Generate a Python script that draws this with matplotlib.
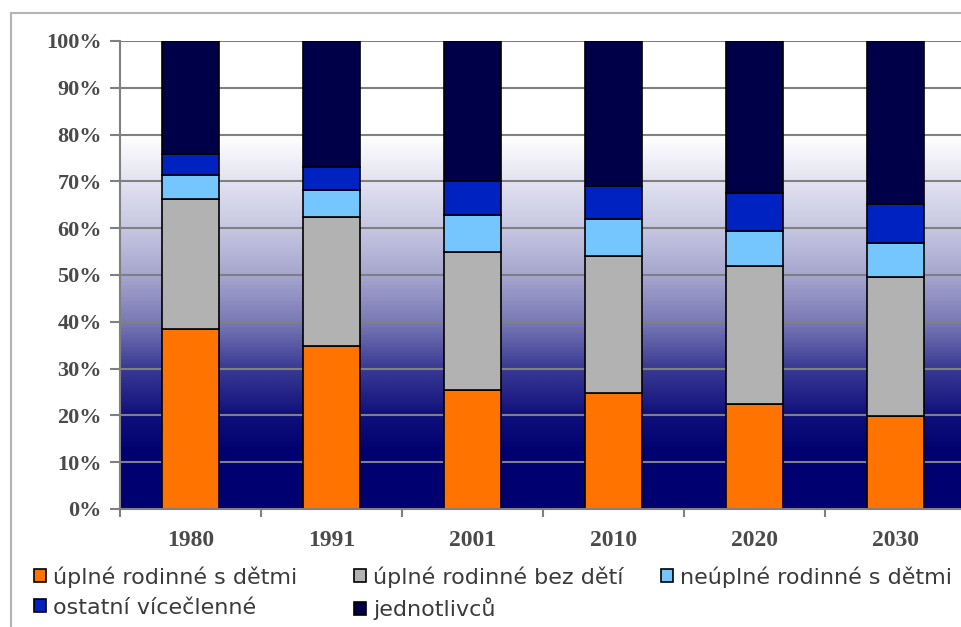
import matplotlib
matplotlib.use("Agg")
import matplotlib.pyplot as plt
import numpy as np
from matplotlib.colors import LinearSegmentedColormap
from matplotlib.patches import Rectangle, Patch

years = ["1980", "1991", "2001", "2010", "2020", "2030"]
series_names = ["úplné rodinné s dětmi", "úplné rodinné bez dětí",
                "neúplné rodinné s dětmi", "ostatní vícečlenné", "jednotlivců"]
orange = [38.4, 34.8, 25.5, 24.8, 22.4, 19.9]
gray = [27.8, 27.5, 29.4, 29.3, 29.5, 29.7]
lightblue = [5.2, 5.9, 7.9, 7.9, 7.6, 7.2]
blue = [4.5, 4.9, 7.3, 7.0, 8.0, 8.3]
dark = [24.1, 26.9, 29.9, 31.0, 32.5, 34.9]
colors = ["#FF7300", "#B2B2B2", "#75C5FF", "#0022C0", "#000048"]
yticks = [0, 10, 20, 30, 40, 50, 60, 70, 80, 90, 100]

W, H = 962, 627
fig = plt.figure(figsize=(W / 100, H / 100), dpi=100)
fig.patch.set_facecolor("white")

# outer chart frame
fig.add_artist(Rectangle((11 / W, -0.1), 1.2, 1 - 13 / H + 0.1, transform=fig.transFigure,
                         fill=False, edgecolor="#b4b4b4", linewidth=1.5))

left, right, top, bottom = 120, 966, 41, 509
ax = fig.add_axes([left / W, 1 - bottom / H, (right - left) / W, (bottom - top) / H])

x = np.arange(len(years))
ax.set_xlim(-0.5, len(years) - 0.5)
ax.set_ylim(0, 100)

# background gradient
grad_cmap = LinearSegmentedColormap.from_list("bg", [
    (0.00, "#000070"), (0.12, "#000070"), (0.20, "#10107c"), (0.30, "#3a3a94"),
    (0.40, "#7a7ab6"), (0.50, "#a6a6cf"), (0.60, "#c6c6e1"), (0.70, "#e2e2f1"),
    (0.80, "#ffffff"), (1.00, "#ffffff")])
grad = np.linspace(0, 1, 400).reshape(-1, 1)
ax.imshow(grad, cmap=grad_cmap, origin="lower", aspect="auto",
          extent=(-0.5, len(years) - 0.5, 0, 100), zorder=0, interpolation="bilinear")

for yv in yticks[1:]:
    ax.axhline(yv, color="#808080", linewidth=1.5, zorder=1)

data = [orange, gray, lightblue, blue, dark]
bottoms = np.zeros(len(years))
handles = []
for vals, col, name in zip(data, colors, series_names):
    ax.bar(x, vals, width=0.4, bottom=bottoms, color=col, edgecolor="black",
           linewidth=1.2, zorder=3, label=name)
    bottoms += np.array(vals)
    handles.append(Patch(facecolor=col, edgecolor="black", linewidth=1.2, label=name))

for s in ["top", "right"]:
    ax.spines[s].set_visible(False)
for s in ["left", "bottom"]:
    ax.spines[s].set_color("#808080")
    ax.spines[s].set_linewidth(1.5)
    ax.spines[s].set_zorder(4)

ax.set_yticks(yticks)
ax.set_yticklabels([f"{v}%" for v in yticks])
ax.set_xticks(x)
ax.set_xticklabels(years)
ax.set_xticks(np.arange(-0.5, len(years) - 0.4, 1), minor=True)
ax.tick_params(axis="x", which="major", length=0, pad=15)
ax.tick_params(axis="x", which="minor", length=6, width=1.5, color="#808080", direction="out")
ax.tick_params(axis="y", length=7, width=1.5, color="#808080", pad=6)
for lab in ax.get_yticklabels():
    lab.set_fontfamily("Liberation Serif")
    lab.set_fontweight("bold")
    lab.set_fontsize(16)
    lab.set_color("#4a4a4a")
for lab in ax.get_xticklabels():
    lab.set_fontfamily("Liberation Serif")
    lab.set_fontweight("bold")
    lab.set_fontsize(17)
    lab.set_color("#4a4a4a")

legend_cols = [([0, 3], 34), ([1, 4], 354), ([2], 661)]
leg_kw = dict(loc="upper left", frameon=False, prop={"family": "DejaVu Sans", "size": 16},
              handlelength=0.55, handleheight=0.55, handletextpad=0.3,
              labelspacing=0.45, borderaxespad=0, borderpad=0)
for idx, xpix in legend_cols:
    leg = fig.legend([handles[i] for i in idx], [series_names[i] for i in idx],
                     bbox_to_anchor=(xpix / W, 1 - 566 / H), **leg_kw)
    for t in leg.get_texts():
        t.set_color("#3a3a3a")

fig.savefig("out.png", dpi=100)
